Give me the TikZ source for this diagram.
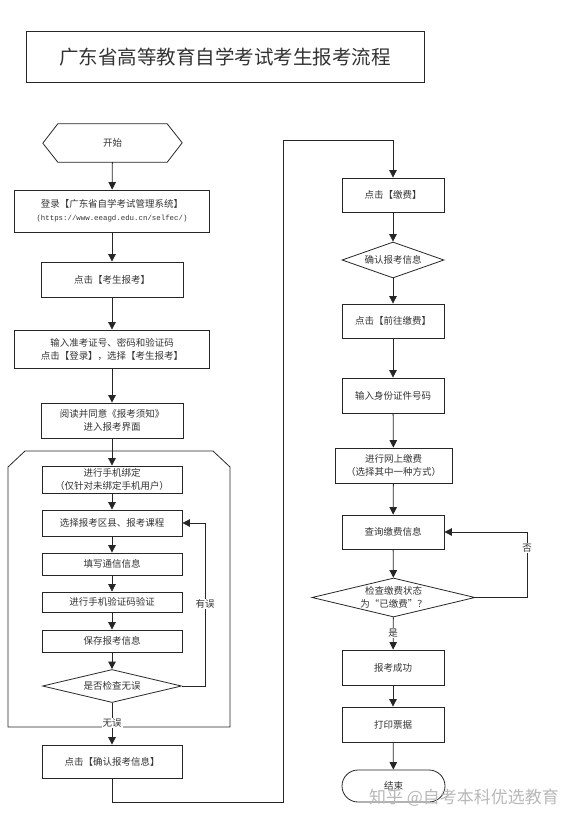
\documentclass[tikz,border=0pt]{standalone}
\usepackage{fontspec}
\setmainfont{Noto Sans CJK SC}
\setmonofont{Liberation Mono}
\usetikzlibrary{shapes.geometric}
\usetikzlibrary{arrows.meta}
\definecolor{lineC}{rgb}{0.15,0.15,0.15}
\definecolor{textC}{rgb}{0.2,0.2,0.2}
\definecolor{markC}{rgb}{0.72,0.72,0.72}

\tikzset{
    box/.style={draw=lineC, line width=0.8pt, align=center, inner sep=1pt, text=textC,
        font=\fontsize{9.5}{13}\selectfont},
    decide/.style={diamond, draw=lineC, line width=0.8pt, aspect=4, inner sep=0pt, align=center,
        text=textC, font=\fontsize{9.5}{13}\selectfont},
    flow/.style={draw=lineC, line width=0.8pt, -{Triangle[width=7.5pt,length=7.5pt]}},
    link/.style={draw=lineC, line width=0.8pt},
    lbl/.style={fill=white, inner sep=1pt, text=textC, font=\fontsize{9.5}{12}\selectfont},
}

\begin{document}
\begin{tikzpicture}[x=1pt,y=-1pt]
    \useasboundingbox (0,0) rectangle (575,825);

    % draw title
    \node[box, minimum width=398pt, minimum height=51pt, font=\fontsize{19.5}{22}\selectfont] (title) at (225,57) {广东省高等教育自学考试考生报考流程};

    % draw left column
    \node[text=textC, font=\fontsize{9.5}{13}\selectfont, minimum width=109pt, minimum height=38pt] (start) at (112.5,143) {开始};
    \draw[link] (start.north west) -- (start.north east) -- ++(15,19) -- (start.south east) -- (start.south west) -- ++(-15,-19) -- cycle;

    \node[box, minimum width=195pt, minimum height=42pt] (login) at (112,211) {登录【广东省自学考试管理系统】\\{\ttfamily\fontsize{7.4}{13}\selectfont(https://www.eeagd.edu.cn/selfec/)}};
    \node[box, minimum width=142pt, minimum height=35pt] (enroll) at (112,279.5) {点击【考生报考】};
    \node[box, minimum width=195pt, minimum height=38pt] (enter) at (112,349) {输入准考证号、密码和验证码\\点击【登录】，选择【考生报考】};
    \node[box, minimum width=142pt, minimum height=35pt] (notice) at (112,420.5) {阅读并同意《报考须知》\\进入报考界面};

    % draw frame round the registration steps
    \draw[link] (25,451) -- (213,451) -- (230,467) -- (230,727) -- (8,727) -- (8,467) -- cycle;

    \node[box, minimum width=140pt, minimum height=27pt] (bind) at (112,479.5) {进行手机绑定\\（仅针对未绑定手机用户）};
    \node[box, minimum width=140pt, minimum height=26pt] (select) at (112,523) {选择报考区县、报考课程};
    \node[box, minimum width=140pt, minimum height=22pt] (contact) at (112,564) {填写通信信息};
    \node[box, minimum width=140pt, minimum height=20pt] (verify) at (112,602) {进行手机验证码验证};
    \node[box, minimum width=140pt, minimum height=22pt] (save) at (112,641) {保存报考信息};
    \node[decide, minimum width=139pt, minimum height=33pt] (check) at (112,686) {是否检查无误};
    \node[box, minimum width=140pt, minimum height=33pt] (confirm) at (112,761.5) {点击【确认报考信息】};

    % draw right column
    \node[box, minimum width=102pt, minimum height=34pt] (pay) at (393,195) {点击【缴费】};
    \node[decide, minimum width=102pt, minimum height=36pt] (recheck) at (393,260) {确认报考信息};
    \node[box, minimum width=102pt, minimum height=34pt] (gopay) at (393,321) {点击【前往缴费】};
    \node[box, minimum width=102pt, minimum height=35pt] (idnum) at (393,395.5) {输入身份证件号码};
    \node[box, minimum width=117pt, minimum height=35pt] (online) at (393.5,465.5) {进行网上缴费\\（选择其中一种方式）};
    \node[box, minimum width=102pt, minimum height=34pt] (query) at (393,532) {查询缴费信息};
    \node[decide, minimum width=163pt, minimum height=39pt] (state) at (393.5,597.5) {检查缴费状态\\为“已缴费”？};
    \node[box, minimum width=102pt, minimum height=35pt] (done) at (393,667.5) {报考成功};
    \node[box, minimum width=102pt, minimum height=35pt] (print) at (393,724.5) {打印票据};
    \node[box, rounded corners=16pt, minimum width=103pt, minimum height=32pt] (finish) at (393.5,786) {结束};

    % draw connectors
    \draw[flow] (start) -- (login);
    \draw[flow] (login) -- (enroll);
    \draw[flow] (enroll) -- (enter);
    \draw[flow] (enter) -- (notice);
    \draw[flow] (notice) -- (bind);
    \draw[flow] (bind) -- (select);
    \draw[flow] (select) -- (contact);
    \draw[flow] (contact) -- (verify);
    \draw[flow] (verify) -- (save);
    \draw[flow] (save) -- (check);

    \coordinate (errx) at (205,0);
    \draw[flow] (check.east) -- (check.east -| errx) |- (select.east);
    \node[lbl] (wrong) at (205,604) {有误};

    \draw[flow] (check) -- (confirm);
    \node[lbl] (right) at (112,723) {无误};

    \coordinate (lowturn) at (283,802);
    \coordinate (topturn) at (283,140);
    \draw[flow] (confirm.south) |- (lowturn) -- (topturn) -| (pay.north);

    \draw[flow] (pay) -- (recheck);
    \draw[flow] (recheck) -- (gopay);
    \draw[flow] (gopay) -- (idnum);
    \draw[flow] (idnum) -- (online);
    \draw[flow] (online) -- (query);
    \draw[flow] (query) -- (state);

    \coordinate (nox) at (527,0);
    \draw[flow] (state.east) -- (state.east -| nox) |- (query.east);
    \node[lbl] (no) at (527,548) {否};

    \draw[flow] (state) -- (done);
    \node[lbl] (yes) at (393,633) {是};
    \draw[flow] (done) -- (print);
    \draw[flow] (print) -- (finish);

    % watermark
    \node[text=markC, font=\fontsize{17}{20}\selectfont] (mark) at (464,798) {知乎 @自考本科优选教育};
\end{tikzpicture}
\end{document}
